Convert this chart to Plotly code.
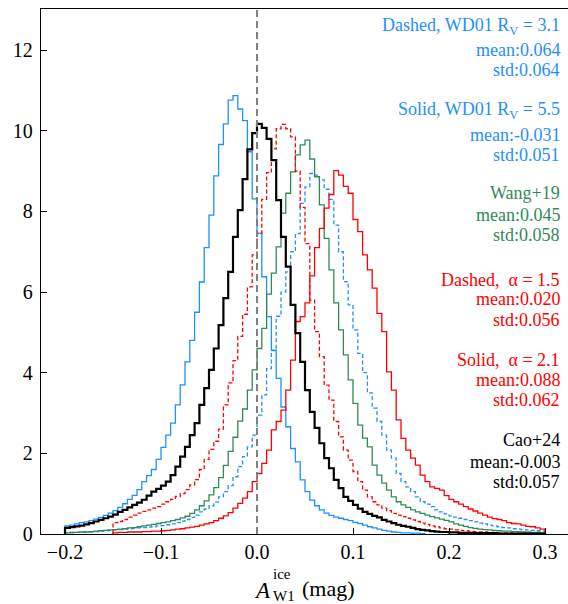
import plotly.graph_objects as go

# ---------------- data (histogram heights, bin width 0.005) ----------------
bin_width = 0.005

# Solid, WD01 Rv=5.5 (blue solid) - starts at -0.2
blue_solid_start = -0.2
blue_solid = [0.20,0.22,0.25,0.28,0.30,0.33,0.37,0.41,0.46,0.52,
              0.58,0.66,0.75,0.86,0.96,1.10,1.30,1.45,1.60,1.85,
              2.15,2.45,2.75,3.20,3.70,4.27,4.80,5.50,6.25,7.10,
              7.91,8.88,9.66,10.17,10.76,10.87,10.54,10.25,9.48,8.31,
              7.46,6.38,5.39,4.56,3.86,3.15,2.66,2.12,1.79,1.34,
              1.05,0.84,0.70,0.60,0.52,0.46,0.42,0.39,0.36,0.33,
              0.29,0.26,0.22,0.18,0.15,0.12,0.09,0.07,0.05,0.04,
              0.03,0.03,0.02,0.02,0.01]

# Dashed, WD01 Rv=3.1 (blue dashed)
blue_dashed_start = -0.2
blue_dashed = [0.03,0.03,0.04,0.04,0.05,0.05,0.06,0.07,0.08,0.09,
               0.10,0.11,0.12,0.13,0.14,0.15,0.16,0.17,0.18,0.20,
               0.21,0.23,0.25,0.28,0.32,0.36,0.41,0.47,0.55,0.62,
               0.70,0.79,0.92,1.05,1.20,1.42,1.67,1.92,2.16,2.45,
               2.95,3.45,4.10,4.55,5.40,6.00,6.50,7.00,7.45,8.20,
               8.61,8.94,8.90,8.78,8.55,8.30,7.66,7.00,6.26,5.68,
               5.06,4.48,4.00,3.50,3.12,2.79,2.45,2.08,1.88,1.50,
               1.30,1.17,1.05,0.92,0.80,0.74,0.68,0.60,0.55,0.50,
               0.45,0.42,0.39,0.36,0.33,0.30,0.27,0.25,0.22,0.20,
               0.18,0.16,0.15,0.13,0.12,0.11,0.10,0.09,0.08,0.07]

# Wang+19 (green)
green_start = -0.2
green = [0.03,0.04,0.04,0.05,0.05,0.06,0.07,0.08,0.09,0.10,
         0.11,0.12,0.13,0.15,0.16,0.18,0.20,0.22,0.24,0.26,
         0.28,0.30,0.33,0.36,0.40,0.44,0.51,0.60,0.70,0.82,
         0.97,1.15,1.40,1.70,2.05,2.40,2.80,3.10,3.57,4.07,
         4.60,5.10,5.95,6.47,7.12,7.96,8.45,8.98,9.40,9.65,
         9.77,9.30,8.86,8.16,7.33,6.55,5.73,5.06,4.44,3.82,
         3.24,2.70,2.38,2.16,1.71,1.46,1.26,1.09,0.92,0.80,
         0.72,0.66,0.60,0.55,0.51,0.47,0.43,0.40,0.37,0.34,
         0.30,0.25,0.22,0.19,0.16,0.14,0.12,0.11,0.10,0.09,
         0.08,0.07,0.07,0.06,0.06,0.05,0.05,0.04,0.04,0.03]

# Dashed, alpha=1.5 (red dashed) - starts at -0.15
red_dashed_start = -0.15
red_dashed = [0.28,0.31,0.36,0.42,0.47,0.52,0.56,0.60,0.64,0.68,
              0.74,0.80,0.86,0.93,1.00,1.10,1.22,1.35,1.60,1.85,
              2.10,2.30,2.60,3.20,3.75,4.30,4.90,5.45,6.13,6.92,
              7.45,8.30,8.96,9.55,10.05,10.16,10.05,9.85,9.00,8.10,
              7.20,5.80,5.02,4.40,3.69,3.32,2.79,2.41,2.08,1.83,
              1.55,1.30,1.09,0.92,0.80,0.72,0.64,0.58,0.51,0.47,
              0.43,0.39,0.35,0.31,0.27,0.24,0.20,0.18,0.15,0.13,
              0.12,0.10,0.09,0.08,0.07,0.06,0.05,0.05,0.04,0.04,
              0.03,0.03,0.03,0.02,0.02,0.02,0.02,0.01,0.01,0.01]

# Solid, alpha=2.1 (red solid) - starts at -0.15
red_solid_start = -0.15
red_solid = [0.03,0.04,0.04,0.05,0.05,0.05,0.06,0.06,0.07,0.07,
             0.08,0.09,0.10,0.12,0.13,0.15,0.17,0.19,0.22,0.25,
             0.28,0.33,0.39,0.45,0.53,0.64,0.76,0.89,1.05,1.30,
             1.50,1.75,2.08,2.58,2.79,3.07,3.57,4.31,5.27,5.39,
             5.73,6.40,7.10,7.58,8.08,8.42,9.01,8.90,8.62,8.45,
             7.80,7.50,6.92,6.55,6.10,5.47,5.02,4.02,3.57,2.83,
             2.37,2.08,1.88,1.71,1.46,1.30,1.17,1.13,1.09,0.95,
             0.86,0.80,0.74,0.68,0.62,0.57,0.52,0.47,0.42,0.38,
             0.36,0.33,0.28,0.26,0.25,0.22,0.19,0.18,0.15,0.12]

# Cao+24 (black)
black_start = -0.2
black = [0.15,0.17,0.19,0.21,0.24,0.27,0.31,0.35,0.39,0.43,
         0.48,0.55,0.60,0.66,0.72,0.78,0.85,0.95,1.05,1.12,
         1.20,1.30,1.46,1.67,1.92,2.16,2.45,2.75,3.20,3.62,
         4.07,4.60,5.18,5.85,6.50,7.37,8.03,8.80,9.54,9.94,
         10.17,10.07,9.80,9.27,8.28,7.37,6.63,5.68,4.98,4.27,
         3.57,3.03,2.63,2.25,1.88,1.63,1.34,1.14,0.92,0.82,
         0.72,0.63,0.55,0.50,0.45,0.41,0.35,0.31,0.27,0.23,
         0.20,0.18,0.15,0.12,0.10,0.09,0.07,0.06,0.05,0.05,
         0.04,0.04,0.03,0.03,0.03,0.02,0.02,0.02,0.02,0.02,
         0.01,0.01,0.01,0.01,0.01,0.01,0.01,0.01,0.01,0.01]

x_ticks = [-0.2, -0.1, 0.0, 0.1, 0.2, 0.3]
x_tick_labels = ["\u22120.2", "\u22120.1", "0.0", "0.1", "0.2", "0.3"]
y_ticks = [0, 2, 4, 6, 8, 10, 12]

legend_blocks = [
    (["Dashed, WD01 R<sub>V</sub> = 3.1", "mean:0.064", "std:0.064"], "#1E90FF"),
    (["Solid, WD01 R<sub>V</sub> = 5.5", "mean:-0.031", "std:0.051"], "#1E90FF"),
    (["Wang+19", "mean:0.045", "std:0.058"], "#2E8B57"),
    (["Dashed,  \u03b1 = 1.5", "mean:0.020", "std:0.056"], "#FF0000"),
    (["Solid,  \u03b1 = 2.1", "mean:0.088", "std:0.062"], "#FF0000"),
    (["Cao+24", "mean:-0.003", "std:0.057"], "#000000"),
]
# y pixel centres of text lines (top of figure = 0)
legend_line_y = [[26, 50, 70], [110, 135, 155], [193, 215, 235],
                 [280, 299, 320], [360, 380, 400], [440, 462, 482]]

# ---------------- figure ----------------
W, H = 568, 604
ML, MR, MT, MB = 41, 0, 9, 70
FONT = "Liberation Serif, Times New Roman, serif"


def step_xy(start, vals):
    xs = [start]
    ys = [0]
    for i, v in enumerate(vals):
        xs.append(start + i * bin_width)
        ys.append(v)
    xs.append(start + len(vals) * bin_width)
    ys.append(vals[-1])
    xs.append(start + len(vals) * bin_width)
    ys.append(0)
    return xs, ys


fig = go.Figure()

series = [
    (blue_solid_start, blue_solid, "#1E90FF", "solid", 1.3),
    (blue_dashed_start, blue_dashed, "#1E90FF", "4px,2.5px", 1.3),
    (green_start, green, "#2E8B57", "solid", 1.3),
    (red_dashed_start, red_dashed, "#FF0000", "4px,2.5px", 1.3),
    (red_solid_start, red_solid, "#FF0000", "solid", 1.3),
    (black_start, black, "#000000", "solid", 2.2),
]
for start, vals, col, dash, lw in series:
    xs, ys = step_xy(start, vals)
    fig.add_trace(go.Scatter(x=xs, y=ys, mode="lines", line_shape="hv",
                             line=dict(color=col, width=lw, dash=dash),
                             showlegend=False, hoverinfo="skip"))

fig.add_shape(type="line", xref="x", yref="paper", x0=0, x1=0, y0=0, y1=1,
              line=dict(color="#808080", width=2, dash="7px,4px"), layer="above")

plot_h = H - MT - MB
plot_w = W - ML - MR
for (lines, col), ys in zip(legend_blocks, legend_line_y):
    for txt, py in zip(lines, ys):
        fig.add_annotation(xref="paper", yref="paper",
                           x=(562 - ML) / plot_w, y=(H - MB - py) / plot_h,
                           xanchor="right", yanchor="middle", text=txt,
                           showarrow=False,
                           font=dict(family=FONT, size=18, color=col))

# axis title built from pieces
title_parts = [
    ("<i>A</i>", 262, 590, 23, "center"),
    ("ice", 271, 574, 15, "left"),
    ("W1", 271, 596, 15, "left"),
    ("(mag)", 300, 588, 22, "left"),
]
for txt, px, py, fs, anc in title_parts:
    fig.add_annotation(xref="paper", yref="paper",
                       x=(px - ML) / plot_w, y=(H - MB - py) / plot_h,
                       xanchor=anc, yanchor="middle", text=txt, showarrow=False,
                       font=dict(family=FONT, size=fs, color="black"))

fig.update_layout(
    width=W, height=H,
    margin=dict(l=ML, r=MR, t=MT, b=MB, pad=0),
    paper_bgcolor="white", plot_bgcolor="white",
    font=dict(family=FONT, size=20, color="black"),
    xaxis=dict(range=[-0.225, -0.225 + plot_w / 960.0],
               tickvals=x_ticks, ticktext=x_tick_labels,
               ticks="inside", ticklen=6, tickwidth=1, tickcolor="black",
               showline=True, linecolor="black", linewidth=1.3, mirror=True,
               showgrid=False, zeroline=False,
               tickfont=dict(family=FONT, size=20, color="black")),
    yaxis=dict(range=[0, 13.02], tickvals=y_ticks,
               ticks="inside", ticklen=6, tickwidth=1, tickcolor="black",
               showline=True, linecolor="black", linewidth=1.3, mirror=False,
               showgrid=False, zeroline=False, ticklabelstandoff=3,
               tickfont=dict(family=FONT, size=20, color="black")),
)

fig.write_html("out.html")
